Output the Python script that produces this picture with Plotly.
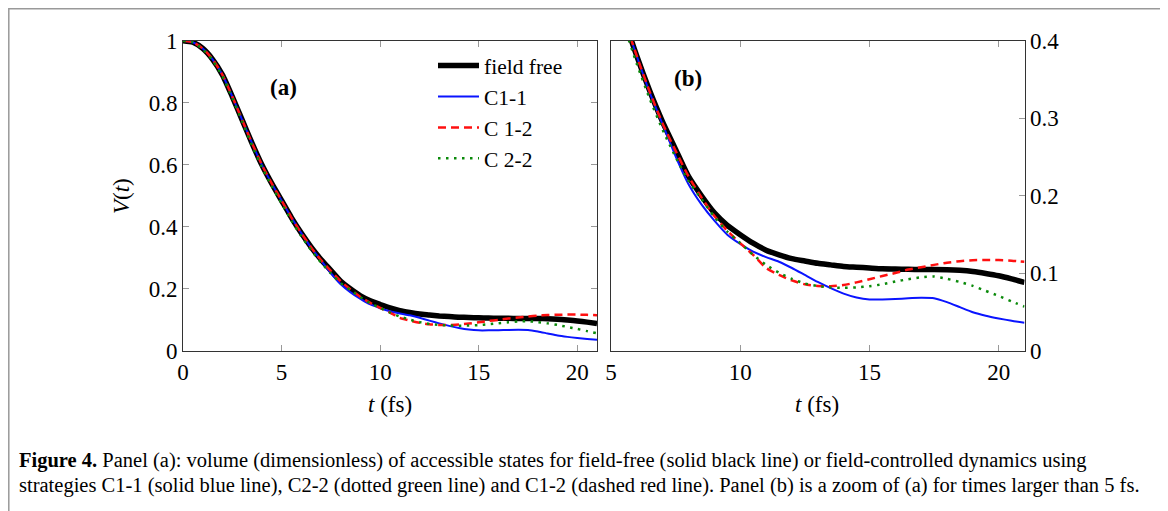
import plotly.graph_objects as go

# ---------------- data ----------------
t = [0.0, 0.5, 1.0, 1.5, 2.0, 2.5, 3.0, 3.5, 4.0, 4.5, 5.0, 5.5, 6.0, 6.5, 7.0,
     7.5, 8.0, 8.5, 9.0, 9.5, 10.0, 10.5, 11.0, 11.5, 12.0, 12.5, 13.0, 13.5, 14.0,
     14.5, 15.0, 15.5, 16.0, 16.5, 17.0, 17.5, 18.0, 18.5, 19.0, 19.5, 20.0, 20.5, 21.0]

field_free = [1.0, 0.995, 0.975, 0.94, 0.89, 0.82, 0.745, 0.67, 0.60, 0.54, 0.485, 0.43, 0.38, 0.335, 0.295,
              0.26, 0.225, 0.20, 0.178, 0.162, 0.150, 0.139, 0.130, 0.124, 0.119, 0.116, 0.113, 0.111, 0.109,
              0.108, 0.107, 0.106, 0.1057, 0.1053, 0.105, 0.105, 0.1048, 0.104, 0.1025, 0.100, 0.097, 0.093, 0.0885]

c11 = [1.0, 0.995, 0.975, 0.94, 0.89, 0.82, 0.745, 0.67, 0.60, 0.54, 0.485, 0.43, 0.38, 0.333, 0.292,
       0.251, 0.215, 0.189, 0.168, 0.150, 0.138, 0.128, 0.121, 0.115, 0.107, 0.098, 0.089, 0.081, 0.074,
       0.069, 0.0665, 0.0665, 0.067, 0.068, 0.0685, 0.068, 0.063, 0.0565, 0.050, 0.0455, 0.042, 0.039, 0.0365]

c12 = [1.0, 0.995, 0.975, 0.94, 0.89, 0.82, 0.745, 0.67, 0.60, 0.54, 0.485, 0.43, 0.38, 0.334, 0.293,
       0.258, 0.225, 0.198, 0.174, 0.155, 0.139, 0.124, 0.107, 0.098, 0.091, 0.086, 0.0838, 0.0835, 0.085,
       0.0885, 0.0925, 0.0967, 0.1005, 0.105, 0.108, 0.111, 0.1138, 0.1158, 0.117, 0.1173, 0.1173, 0.1165, 0.115]

c22 = [1.0, 0.995, 0.973, 0.937, 0.886, 0.815, 0.74, 0.663, 0.593, 0.532, 0.476, 0.42, 0.37, 0.325, 0.285,
       0.25, 0.219, 0.196, 0.173, 0.154, 0.139, 0.124, 0.111, 0.101, 0.093, 0.087, 0.0838, 0.082, 0.0815,
       0.082, 0.0835, 0.086, 0.0895, 0.0925, 0.095, 0.096, 0.093, 0.089, 0.084, 0.0775, 0.071, 0.064, 0.0572]

names = ["field free", "C1-1", "C 1-2", "C 2-2"]
series = [field_free, c11, c12, c22]

xa_ticks = [0, 5, 10, 15, 20]
ya_ticks = [0, 0.2, 0.4, 0.6, 0.8, 1]
xb_ticks = [5, 10, 15, 20]
yb_ticks = [0, 0.1, 0.2, 0.3, 0.4]

caption1 = ("<b>Figure 4.</b> Panel (a): volume (dimensionless) of accessible states for field-free "
            "(solid black line) or field-controlled dynamics using")
caption2 = ("strategies C1-1 (solid blue line), C2-2 (dotted green line) and C1-2 (dashed red line). "
            "Panel (b) is a zoom of (a) for times larger than 5 fs.")

# ---------------- styles ----------------
styles = [
    dict(color="black", width=5.5, dash="solid"),
    dict(color="#0a14ff", width=2, dash="solid"),
    dict(color="#ff1010", width=2.5, dash="8px,5px"),
    dict(color="#0a8a0a", width=2.5, dash="2.5px,5.5px"),
]

# page body has an 8px margin: the figure is sized to fill the rest of the window
OFF = 8
W, H = 1168 - OFF, 511 - OFF
FONT = "Liberation Serif"
TICK_SIZE = 23

fig = go.Figure()
for i, (nm, ys) in enumerate(zip(names, series)):
    st = styles[i]
    for ax, show in (("", True), ("2", False)):
        fig.add_trace(go.Scatter(
            x=t, y=ys, name=nm, mode="lines", showlegend=show,
            line=dict(color=st["color"], width=st["width"], dash=st["dash"], shape="spline", smoothing=0.6),
            xaxis="x" + ax, yaxis="y" + ax, legendgroup=nm,
        ))

axis_common = dict(
    showgrid=False, zeroline=False, showline=True, linecolor="#333", linewidth=1,
    ticks="inside", ticklen=6, tickcolor="#999", tickwidth=1, automargin=False,
    tickfont=dict(family=FONT, size=TICK_SIZE, color="black"),
)


def px_x(p):
    return (p - OFF) / W


def px_y(p):
    return 1 - (p - OFF) / H


def label(text, x, y, size=TICK_SIZE, angle=0, anchor="center"):
    return dict(text=text, xref="paper", yref="paper", x=px_x(x), y=px_y(y),
                xanchor=anchor, yanchor="middle", showarrow=False, textangle=angle,
                font=dict(family=FONT, size=size, color="black"))


fig.update_layout(
    width=W, height=H,
    margin=dict(l=0, r=0, t=0, b=0, autoexpand=False),
    paper_bgcolor="white", plot_bgcolor="white",
    font=dict(family=FONT, size=TICK_SIZE, color="black"),
    xaxis=dict(axis_common, domain=[px_x(183), px_x(597)], range=[0, 21],
               tickvals=xa_ticks, mirror="ticks", anchor="y"),
    yaxis=dict(axis_common, domain=[px_y(351), px_y(40.7)], range=[0, 1],
               tickvals=ya_ticks, mirror="ticks", anchor="x"),
    xaxis2=dict(axis_common, domain=[px_x(611), px_x(1024.5)], range=[5, 21],
                tickvals=xb_ticks, mirror="ticks", anchor="y2"),
    yaxis2=dict(axis_common, domain=[px_y(351), px_y(40.7)], range=[0, 0.4],
                tickvals=yb_ticks, mirror=True, side="right", anchor="x2"),
    legend=dict(x=px_x(433), y=px_y(45), xanchor="left", yanchor="top",
                bgcolor="rgba(0,0,0,0)", borderwidth=0,
                font=dict(family=FONT, size=21.5), tracegroupgap=0, itemwidth=41),
    shapes=[dict(type="rect", xref="paper", yref="paper",
                 x0=px_x(8.8), x1=px_x(1162.5), y0=-0.05, y1=px_y(8.8),
                 line=dict(color="#999", width=1.5), fillcolor="rgba(0,0,0,0)", layer="below")],
    annotations=[
        label("<i>V</i>(<i>t</i>)", 121, 196, angle=-90),
        label("<i>t</i> (fs)", 390, 404),
        label("<i>t</i> (fs)", 817, 404),
        label("<b>(a)</b>", 283, 87),
        label("<b>(b)</b>", 688, 78),
        label(caption1, 17, 460, size=20.5, anchor="left"),
        label(caption2, 17, 485, size=20.5, anchor="left"),
    ],
)

fig.write_html("out.html")
